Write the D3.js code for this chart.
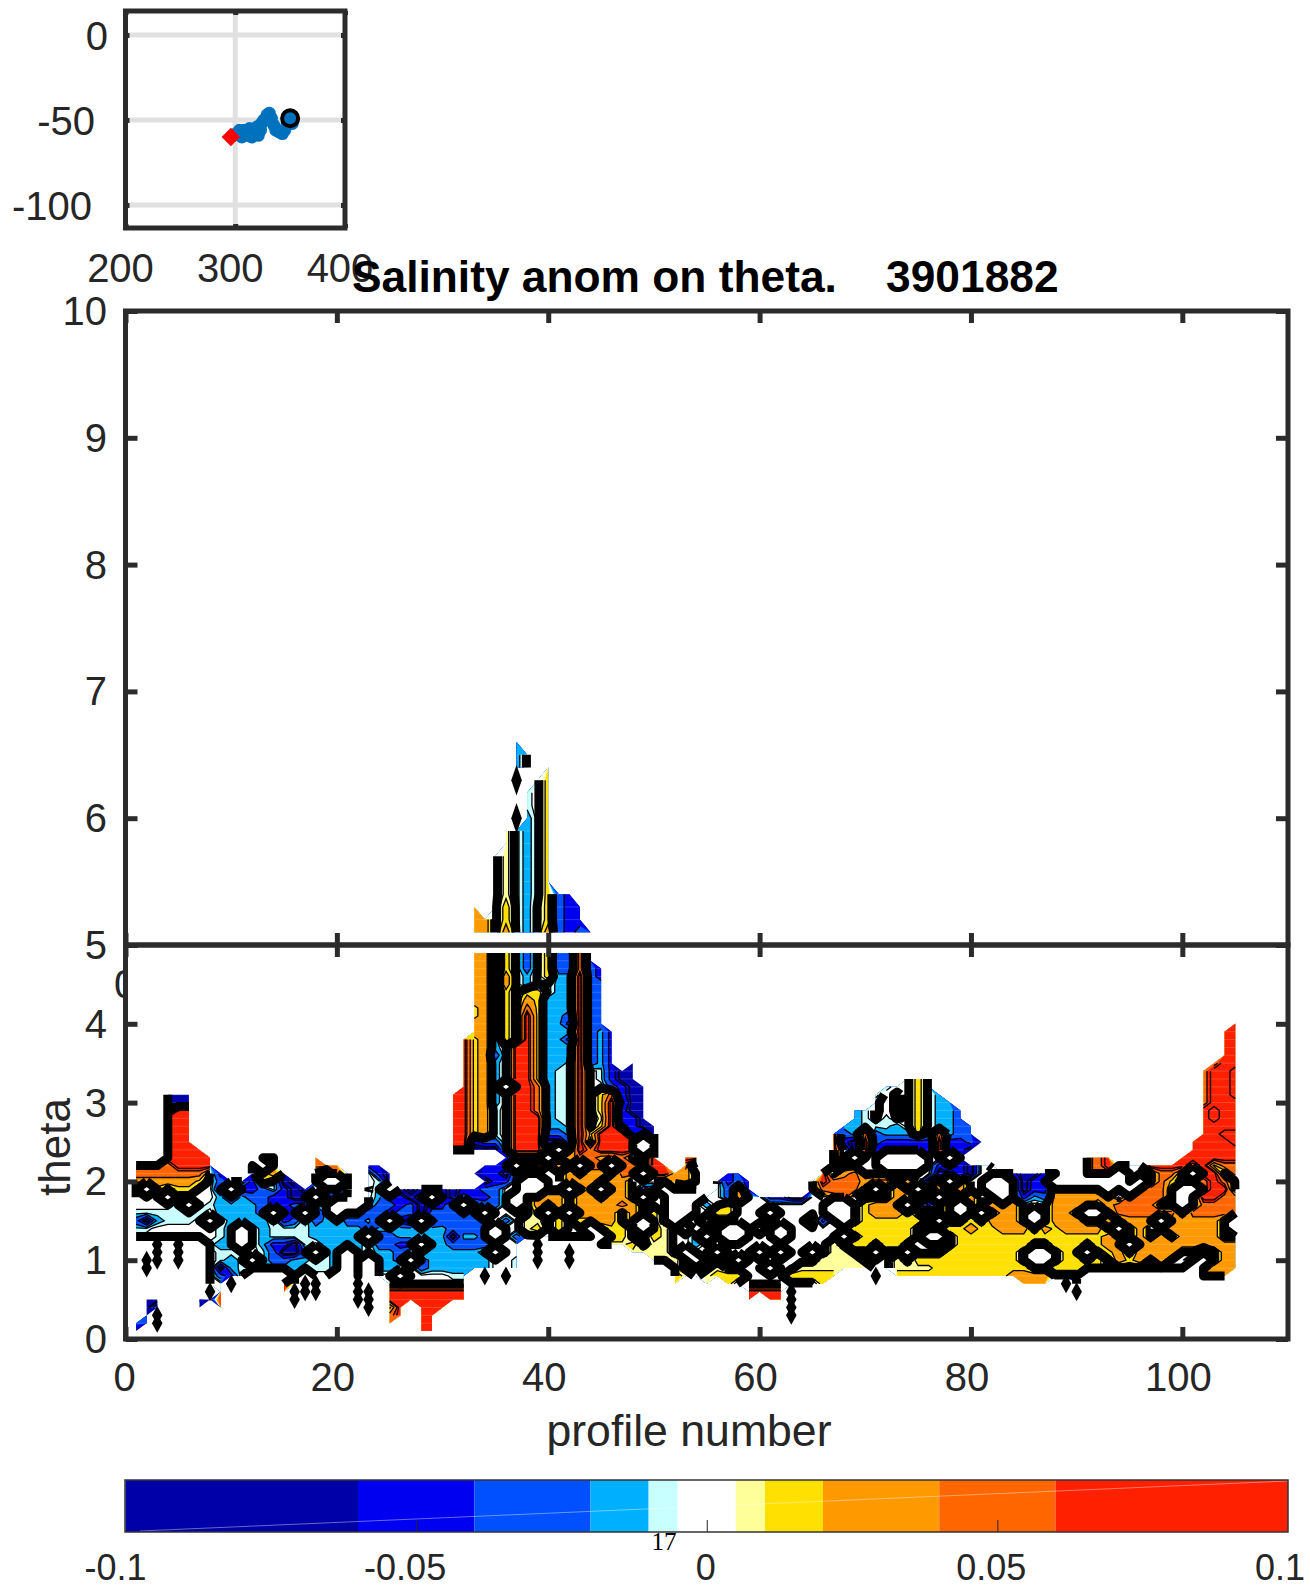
<!DOCTYPE html>
<html>
<head>
<meta charset="utf-8">
<script src="https://cdn.jsdelivr.net/npm/d3@7"></script>
<style>
body { margin: 0; background: #fff; }
text { font-family: "Liberation Sans", Arial, sans-serif; fill: #262626; }
</style>
</head>
<body>
<svg id="canvas" width="1310" height="1595"></svg>
<script>
// Float track, lon / lat
const track_lon = [298, 301, 304, 306, 308, 311, 313, 315, 318, 320, 321, 323, 324, 326, 329, 331, 333, 335, 337, 340, 343, 345, 347, 350, 352];
const track_lat = [-59, -58, -56, -60, -56, -59, -55, -60, -57, -54, -59, -56, -52, -50, -47, -46, -49, -53, -56, -57, -58, -56, -53, -49, -52];
const track_first = [296, -60];
const track_last = [350, -49];

// Contour levels, colours of the bands between them
const levels = [-0.1, -0.06, -0.04, -0.02, -0.01, -0.005, 0.005, 0.01, 0.02, 0.04, 0.06, 0.1];
const colors = ["#0000a8", "#0000f0", "#0050ff", "#00b0ff", "#c8ffff", "#ffffff", "#ffff99", "#ffe000", "#ff9900", "#ff6600", "#ff2000"];
const extra_lines = [-0.07, 0.07, 0.1]; // contoured but same colour

// Grid letters -> salinity anomaly. "." "," "#" have no value.
// "," is a gap with the thick line round it, "#" a black patch
const anomaly = { a: -0.08, b: -0.05, c: -0.03, d: -0.015, e: -0.0075, f: -0.002, z: 0.001,
                  g: 0.0075, h: 0.015, i: 0.03, j: 0.05, k: 0.08, l: 0.12 };

// theta 6.6 down to 5.1, profiles 33 to 44
const upper_rows = [
  "....d.......",
  "....dz......",
  "....dz.h....",
  "....#.fh....",
  ".....efh....",
  "..g..efh....",
  "....#dfh....",
  "...gfdfh....",
  "...gfdfh....",
  "..fgfdfh....",
  "..fgfdfh....",
  "..fgfdfh....",
  "..fgfdfhcb..",
  "i.fhfdzhcbb.",
  "iifhfdzhcbb.",
  "iififdzicbcc"
];

// theta 4.9 down to 0.1, profiles 1 to 105, in tens
const lower_rows = [
  ".......... .......... .......... ..iidhfczh ccjc...... .......... .......... .......... .......... .......... .....",
  ".......... .......... .......... ..iidhfczh ccjc...... .......... .......... .......... .......... .......... .....",
  ".......... .......... .......... ..iidhfczh ccjcb..... .......... .......... .......... .......... .......... .....",
  ".......... .......... .......... ..iidifdzh ddkcb..... .......... .......... .......... .......... .......... .....",
  ".......... .......... .......... ..iidifdzf ddkcc..... .......... .......... .......... .......... .......... .....",
  ".......... .......... .......... ..iidhfhhf ddkcc..... .......... .......... .......... .......... .......... .....",
  ".......... .......... .......... ..iidhfihd ddkcc..... .......... .......... .......... .......... .......... .....",
  ".......... .......... .......... ..hidhfjhd ddkcc..... .......... .......... .......... .......... .......... .....",
  ".......... .......... .......... ..hidhfkhd dckcc..... .......... .......... .......... .......... .......... .....",
  ".......... .......... .......... ..iidhfkhd dbkcc..... .......... .......... .......... .......... .......... ....k",
  ".......... .......... .......... ..iidhfkhd ddkcdb.... .......... .......... .......... .......... .......... ...kk",
  ".......... .......... .......... .khidhfkhd dbkcdb.... .......... .......... .......... .......... .......... ...kk",
  ".......... .......... .......... .khidfkkhd ddkcdb.... .......... .......... .......... .......... .......... ...kk",
  ".......... .......... .......... .khicfkkhd ddkcdb.... .......... .......... .......... .......... .......... ...kk",
  ".......... .......... .......... .khidfkkhd dekcdb.a.. .......... .......... .......... .......... .......... ..jkk",
  ".......... .......... .......... .khidfkkhd eekfebaa.. .......... .......... .......... .......... .......... .jkkl",
  ".......... .......... .......... .khidfkkhd eekfebaa.. .......... .......... ...fhf.... .......... .......... .jkkl",
  ".......... .......... .......... .khid,kkjd eekffcbaa. .......... .......... .effhf.... .......... .......... .jkkl",
  "...aaa.... .......... .......... kkhidfkkjd eekfhjbaa. .......... .......... gfzfhfd... .......... .......... .jkkl",
  "..,aaa.... .......... .......... kkhidfkkjd eekfhkcaa. .......... .......... zfzfhfdd.. .......... .......... .jkkk",
  "..,ckk.... .......... .......... kkhiefkkjd eekfhkbaa. .......... ........de zfzfhfddc. .......... .......... .klkk",
  "..,kkk.... .......... .......... kkhiefkkkd eekfgkbba. .......... ........de zezfhfddc. .......... .......... .klkk",
  "..,kkk.... .......... .......... kkhiefkkkd dekfhkcbaa .......... .......dde eedfhfddcc .......... .......... .kkkk",
  "..,kkk.... .......... .......... kkhiefkkkc cdkhkkkbza .......... ......kcdj cdddhdjdcc .......... .......... .kkll",
  "..,kkk.... .......... .......... kkbccfkkka ackfkkkk,a .......... ......kbak cbbbbbkbbc a......... .......... kkkkl",
  "..,kkkk... .......... .......... kkaaafkkkf ,fkjkkkk,k .......... ......kzak bbbbbbkbba .......... .......... kkkkk",
  ",,,kkkkk.. ..ik...k.. .......... ,,...bffff fijjiijffk ..kk...... .....,kf,f f,,,,ff,b. .........,  ijk......k kkkkk",
  "jjjjkkkk.. .i,i...jjj ..bb...... ...bbb,fkf if,jj,jjfk k.jb...... .....,ffff f,,,,fbfba fz.......,  ijkfffkkkk jkhjj",
  "jjjjjjjfb. .fhif..fbj z.fba..... ..abbaffff fifiifjj,k kiif..bc.. .....kfijf ffffffaaba fffbaaba., ijj,fffjjf ,kkfj",
  "iiiiiihfcb fbhfab.f,, f.fea..... ...abbf,,f fiiifiifff fiif.zbcb. ....fkjjji jjfifaj,if f,,fabb,,, ,,,,f,fjhf fjkjf",
  "h,hfhhffb, bbcebabfca z.zd,abaab abbccff,,f f,fi,iifcc ,acf.fcib. ....fjjjjf ,fif,fifif f,,fabbiii if,f,jjjf, ,jkkf",
  "fff,ffffdb dccbbaa,cc z.fdbbab,b acbbcf,fii ifiifiif,f f,,,ffciff bbaaffijff ffiifi,ffi ff,fbdciii iiifjjjjf, fkkjj",
  "ffffe,fedd ddcbbccdf, ,,fccbcabb f,fccf,fif ifiiiijiff f,,fdfhfff ffffff,,fh iii,fbfi,i fiiifffiii ifijjjjff, fjjjj",
  "eeeeeeefdd ddc,cb,bd, ffccbccacc cfc,ffffh, f,iiiififh f,,ffhhfff ,fffff,,fh iiihfifi,f ,fiif,fiif ,,fjjjjjjf jjjjj",
  "cadeeef,fd dddfbcfcdf ccdb,ba,bc cccdfcfggf hfhhiifi,h f,ffgfffff ffffhbz,fh hhhhhf,ffh fiiif,fiii ffifiii,ii iiif,",
  "eeffffffed ,fdeeeeddd ddcddddcdd cccc,ffghf hff,fhhf,h gfgfff,,fg f,fffffhhh hhhhfffhhi hhiiifihii iif,fiffii iiif,",
  "efffffffed ,fdeeeeddd dd,ccddddd addc,fcfff ffff,hhffh gffd,f,,ff f,fffff,fh hhhhf,,fhh hhhhhhhhhh hhiffififi iiiff",
  ",,#,#,,edd ,fdbbaefdd edfccbb,dd ccccfff.#. ,,,,ggghfg gffdffffff ffffffgfhh fhhfffffhh hhhhhffhhh fhii,iiiii iiiii",
  ".,#.#.,fee ffecaac,ed ,dfddcffdd dddf,ff.#. .#.....ggg gf,ff,fff, f,ff,fggff ,ff,fffhhh hhhhf,,fhh ,fhifiiiif fbfii",
  ".##.#.,fed e,eccddfed ,d,ddc,cdd ddddffe.#. .#.......g ggf,fff,ff fffffggggf ffgfhhhhhh hhhhf,,fhh fhfihififf b,fii",
  ".#....,fad efedddfeed ,d,ddffcdd ddddffe... .......... ,gfffgffff ,ffggggggg ffgggghhhh hhhhhffhhh hhffffffff ,fiii",
  "......,fcb f,,,,f,ff, .f.ff,ffff ee.#.#.... .......... .hgfghhhff ffhhhhh... #.hhhhhhhh hhhiiiifff ,,,,,,,,,, ,iii.",
  ".......ff# ....kf##.. .#a.ffffff ff........ .......... .k..h.hfff fffffh.... .......... ....iii.#b .......... .,,,.",
  ".......#k. ....k###.. .##.kkkkkk kk........ .......... ........kk kk#....... .......... .........# .......... .....",
  ".aa...bak. ....k#k... .##.kkkkkk kk........ .......... ........k. kk#....... .......... .......... .......... .....",
  ".ad...a.k. .......... .a#.hk.kkk .......... .......... ........a. ..#....... .......... .......... .......... .....",
  ".c#....... .......... ....jk.kk. .......... .......... ........a. ..#....... .......... .......... .......... .....",
  "cc#....... .......... ....k..kk. .......... .......... .......... ..b....... .......... .......... .......... .....",
  "a......... .......... .......kk. .......... .......... .......... ..b....... .......... .......... .......... ....."
];

const x_ticks = [0, 20, 40, 60, 80, 100];
const upper_theta_ticks = [5, 6, 7, 8, 9, 10];
const lower_theta_ticks = [0, 1, 2, 3, 4, 5];
const cbar_ticks = [-0.05, 0, 0.05];
const cbar_labels = [-0.1, -0.05, 0, 0.05, 0.1];
const map_lon_ticks = [200, 300, 400];
const map_lat_ticks = [0, -50, -100];

const dark = "#2b2b2b";
const svg = d3.select("#canvas");

var x = d3.scaleLinear().domain([0, 110]).range([125.5, 1288]);
var y_upper = d3.scaleLinear().domain([5, 10]).range([945, 311]);
var y_lower = d3.scaleLinear().domain([0, 5]).range([1339, 945]);

// Turn strings into a value grid with one empty cell all round, so contours close on the data edge
function build_grid(rows, first_profile, lowest_theta) {
    const clean = rows.map(r => r.replace(/ /g, "")).reverse(); // row 0 is the lowest theta
    const nx = d3.max(clean, r => r.length) + 2;
    const ny = clean.length + 2;
    const values = new Array(nx * ny).fill(NaN);
    const codes = new Array(nx * ny).fill(".");
    clean.forEach((row, j) => {
        for (let i = 0; i < row.length; i++) {
            const k = (j + 1) * nx + i + 1;
            codes[k] = row[i];
            if (anomaly[row[i]] !== undefined) values[k] = anomaly[row[i]];
        }
    });
    return { nx, ny, values, codes, first_profile, lowest_theta };
}

let panel_id = 0;

function draw_contours(grid, y) {
    const g = svg.append("g");
    const gen = d3.contours().size([grid.nx, grid.ny]);
    const to_px = p => {
        const profile = grid.first_profile + p[0] - 1.5;
        const theta = grid.lowest_theta + (p[1] - 1.5) * 0.1;
        return x(profile).toFixed(1) + "," + y(theta).toFixed(1);
    };

    // Cells next to a segment midpoint
    function corners(mx, my) {
        const axis = v => Number.isInteger(v) ? [v - 1, v, v + 1] : [Math.floor(v), Math.ceil(v)];
        const out = [];
        for (const i of axis(mx - 0.5)) {
            for (const j of axis(my - 0.5)) {
                if (i >= 0 && j >= 0 && i < grid.nx && j < grid.ny) out.push(j * grid.nx + i);
            }
        }
        return out;
    }
    const all_valid = (mx, my) => corners(mx, my).every(k => !isNaN(grid.values[k]));
    const near_gap = (mx, my) => corners(mx, my).some(k => grid.codes[k] === ",");

    function line_path(contour, keep) {
        let d = "";
        for (const polygon of contour.coordinates) {
            for (const ring of polygon) {
                let pen = false;
                for (let n = 0; n < ring.length - 1; n++) {
                    const a = ring[n], b = ring[n + 1];
                    if (keep((a[0] + b[0]) / 2, (a[1] + b[1]) / 2)) {
                        if (!pen) d += "M" + to_px(a);
                        d += "L" + to_px(b);
                        pen = true;
                    } else {
                        pen = false;
                    }
                }
            }
        }
        return d;
    }

    // filled bands, lowest first
    const fill_path = contour => contour.coordinates
        .map(polygon => polygon.map(ring => "M" + ring.map(to_px).join("L") + "Z").join(""))
        .join("");
    colors.forEach((color, i) => {
        g.append("path")
            .attr("d", fill_path(gen.contour(grid.values, levels[i])))
            .attr("fill", color)
            .attr("fill-rule", "evenodd");
    });

    // faint seams between the filled patches
    const clip_id = "data-area-" + (panel_id++);
    g.append("clipPath").attr("id", clip_id).append("path")
        .attr("d", fill_path(gen.contour(grid.values, levels[0])))
        .attr("clip-rule", "evenodd");
    const row_thetas = d3.range(grid.ny - 2).map(j => grid.lowest_theta + j * 0.1);
    g.append("g").attr("clip-path", `url(#${clip_id})`)
        .selectAll("line").data(row_thetas).enter().append("line")
        .attr("x1", x(0)).attr("x2", x(110))
        .attr("y1", d => y(d)).attr("y2", d => y(d))
        .attr("stroke", "#fff").attr("stroke-opacity", 0.18).attr("stroke-width", 1);

    // thin contours
    for (const level of levels.slice(1, -1).concat(extra_lines)) {
        g.append("path")
            .attr("d", line_path(gen.contour(grid.values, level), all_valid))
            .attr("fill", "none")
            .attr("stroke", "#000")
            .attr("stroke-width", 1.3);
    }

    // thick zero contour, and the thick line round the gaps
    const thick = [
        line_path(gen.contour(grid.values, 0), all_valid),
        line_path(gen.contour(grid.values, levels[0]), near_gap)
    ];
    for (const d of thick) {
        g.append("path")
            .attr("d", d)
            .attr("fill", "none")
            .attr("stroke", "#000")
            .attr("stroke-width", 9)
            .attr("stroke-linejoin", "round");
    }

    // black patches, diamonds so that a column of them tapers
    const cell_w = x(1) - x(0);
    const cell_h = y(0) - y(0.1);
    grid.codes.forEach((code, k) => {
        if (code !== "#") return;
        const i = k % grid.nx, j = Math.floor(k / grid.nx);
        const px = x(grid.first_profile + i - 1);
        const py = y(grid.lowest_theta + (j - 1) * 0.1);
        g.append("path")
            .attr("d", `M${px - cell_w * 0.5},${py}L${px},${py - cell_h * 1.2}L${px + cell_w * 0.5},${py}L${px},${py + cell_h * 1.2}Z`)
            .attr("fill", "#000");
    });
}

draw_contours(build_grid(lower_rows, 1, 0.1), y_lower);
draw_contours(build_grid(upper_rows, 33, 5.1), y_upper);

// Restyle an axis made by d3: no domain line, heavy inward ticks
function heavy_axis(axis, tx, ty) {
    const g = svg.append("g").attr("transform", `translate(${tx},${ty})`).call(axis);
    g.select(".domain").remove();
    g.selectAll("line").attr("stroke", dark).attr("stroke-width", 5);
    g.selectAll("text").remove();
    return g;
}

function frame(x0, y0, x1, y1) {
    svg.append("rect")
        .attr("x", x0).attr("y", y0)
        .attr("width", x1 - x0).attr("height", y1 - y0)
        .attr("fill", "none")
        .attr("stroke", dark)
        .attr("stroke-width", 5);
}

function label(text, px, py, size, anchor) {
    return svg.append("text")
        .attr("x", px).attr("y", py)
        .attr("font-size", size)
        .attr("text-anchor", anchor || "middle")
        .text(text);
}

// Main axes: two stacked panels
heavy_axis(d3.axisBottom(x).tickValues(x_ticks).tickSize(12), 0, 311);
heavy_axis(d3.axisTop(x).tickValues(x_ticks).tickSize(12), 0, 945);
heavy_axis(d3.axisBottom(x).tickValues(x_ticks).tickSize(12), 0, 945);
heavy_axis(d3.axisTop(x).tickValues(x_ticks).tickSize(12), 0, 1339);
heavy_axis(d3.axisRight(y_upper).tickValues(upper_theta_ticks).tickSize(12), 125.5, 0);
heavy_axis(d3.axisLeft(y_upper).tickValues(upper_theta_ticks).tickSize(12), 1288, 0);
heavy_axis(d3.axisRight(y_lower).tickValues(lower_theta_ticks).tickSize(12), 125.5, 0);
heavy_axis(d3.axisLeft(y_lower).tickValues(lower_theta_ticks).tickSize(12), 1288, 0);
frame(125.5, 311, 1288, 945);
frame(125.5, 945, 1288, 1339);

upper_theta_ticks.slice(1).forEach(t => label(t, 107, y_upper(t) + 14, 40, "end"));
lower_theta_ticks.forEach(t => label(t, 107, y_lower(t) + 14, 40, "end"));
x_ticks.forEach(t => label(t, x(t) - (t === 0 ? 1 : 4), 1391, 40));
label("profile number", 689, 1446, 44.6);
svg.append("text")
    .attr("transform", "translate(70,1147) rotate(-90)")
    .attr("font-size", 44)
    .attr("text-anchor", "middle")
    .text("theta");

// the top panel's hidden 0 tick label, only its left edge shows
svg.append("clipPath").attr("id", "hidden-zero").append("rect")
    .attr("x", 100).attr("y", 950).attr("width", 23).attr("height", 60);
label("0", 125, 998, 40).attr("clip-path", "url(#hidden-zero)");

// Position map
var lon = d3.scaleLinear().domain([200, 400]).range([125.5, 345]);
var lat = d3.scaleLinear().domain([0, -100]).range([35, 205]);

svg.selectAll(".map-h").data(map_lat_ticks).enter().append("line")
    .attr("x1", 125.5).attr("x2", 345)
    .attr("y1", d => lat(d)).attr("y2", d => lat(d))
    .attr("stroke", "#e0e0e0").attr("stroke-width", 5);
svg.append("line")
    .attr("x1", lon(300)).attr("x2", lon(300))
    .attr("y1", 11).attr("y2", 228)
    .attr("stroke", "#e0e0e0").attr("stroke-width", 5);
heavy_axis(d3.axisBottom(lon).tickValues(map_lon_ticks).tickSize(4), 0, 11);
heavy_axis(d3.axisTop(lon).tickValues(map_lon_ticks).tickSize(4), 0, 228);
heavy_axis(d3.axisRight(lat).tickValues(map_lat_ticks).tickSize(4), 125.5, 0);
heavy_axis(d3.axisLeft(lat).tickValues(map_lat_ticks).tickSize(4), 345, 0);
frame(125.5, 11, 345, 228);

svg.selectAll(".track").data(track_lon).enter().append("circle")
    .attr("cx", d => lon(d))
    .attr("cy", (d, i) => lat(track_lat[i]))
    .attr("r", 6.5)
    .attr("fill", "#0072bd");
svg.append("path")
    .attr("d", d3.symbol(d3.symbolSquare, 170)())
    .attr("transform", `translate(${lon(track_first[0])},${lat(track_first[1])}) rotate(45)`)
    .attr("fill", "#f00");
svg.append("circle")
    .attr("cx", lon(track_last[0])).attr("cy", lat(track_last[1]))
    .attr("r", 8)
    .attr("fill", "none")
    .attr("stroke", "#000")
    .attr("stroke-width", 4);

map_lon_ticks.forEach(t => label(t, lon(t) - 5, 282, 40));
label(0, 108, lat(0) + 15, 40, "end");
label(-50, 95, lat(-50) + 15, 40, "end");
label(-100, 92, lat(-100) + 15, 40, "end");

svg.append("text")
    .attr("x", 352).attr("y", 292)
    .attr("font-size", 44.3)
    .attr("font-weight", "bold")
    .style("fill", "#000")
    .style("white-space", "pre")
    .text("Salinity anom on theta.    3901882");

// Colour bar
var cbar = d3.scaleLinear().domain([-0.1, 0.1]).range([125.5, 1288]);
const cbar_top = 1480, cbar_bottom = 1532;
svg.selectAll(".band").data(colors).enter().append("rect")
    .attr("x", (d, i) => cbar(levels[i]))
    .attr("y", cbar_top)
    .attr("width", (d, i) => cbar(levels[i + 1]) - cbar(levels[i]))
    .attr("height", cbar_bottom - cbar_top)
    .attr("fill", d => d);
svg.append("line")
    .attr("x1", 140).attr("y1", cbar_bottom - 1)
    .attr("x2", 1288).attr("y2", cbar_top + 1)
    .attr("stroke", "#fff").attr("stroke-opacity", 0.4).attr("stroke-width", 1);
const cbar_axis = svg.append("g").attr("transform", `translate(0,${cbar_bottom})`)
    .call(d3.axisTop(cbar).tickValues(cbar_ticks).tickSize(12).tickFormat(""));
cbar_axis.select(".domain").remove();
cbar_axis.selectAll("line").attr("stroke", "#262626").attr("stroke-width", 1);
svg.append("rect")
    .attr("x", 125).attr("y", cbar_top)
    .attr("width", 1163).attr("height", cbar_bottom - cbar_top)
    .attr("fill", "none")
    .attr("stroke", "#333")
    .attr("stroke-width", 1.5);

const cbar_nudge = [-10, -11, -1, -6, -8];
cbar_labels.forEach((t, i) => label(t, cbar(t) + cbar_nudge[i], 1580, 36));
label("17", 664, 1550, 25).style("font-family", '"Liberation Serif", serif').style("fill", "#000");
</script>
</body>
</html>
